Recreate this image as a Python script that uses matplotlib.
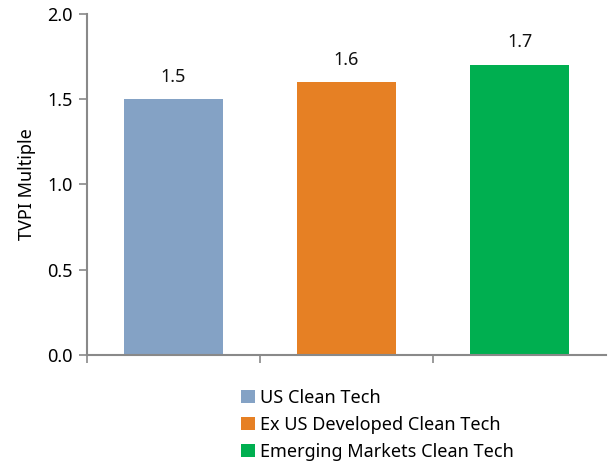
import matplotlib
matplotlib.use("Agg")
import matplotlib.pyplot as plt
from matplotlib.patches import Patch

plt.rcParams['font.family'] = ['Noto Sans', 'DejaVu Sans']

# Datos
categorias = ["US Clean Tech", "Ex US Developed Clean Tech", "Emerging Markets Clean Tech"]
valores = [1.5, 1.6, 1.7]
colores = ["#84A2C5", "#E68024", "#00AF50"]
ticks_y = [0.0, 0.5, 1.0, 1.5, 2.0]

gris = "#898989"
fs = 13

fig = plt.figure(figsize=(6.08, 4.65), dpi=100)
ax = fig.add_axes([0.143, 0.2366, 0.854, 0.7334])

x = list(range(len(valores)))
ax.bar(x, valores, width=0.57, color=colores, zorder=2)

for xi, v in zip(x, valores):
    ax.text(xi, v + 0.08, f"{v:.1f}", ha="center", va="bottom", fontsize=fs, color="#111111")

ax.set_xlim(-0.5, 2.5)
ax.set_ylim(0, 2.0)
ax.set_yticks(ticks_y)
ax.set_yticklabels([f"{t:.1f}" for t in ticks_y], fontsize=fs)
ax.set_xticks([-0.5, 0.5, 1.5])
ax.set_xticklabels([])
ax.tick_params(axis="x", length=6, width=1.2, color=gris, direction="out")
ax.tick_params(axis="y", length=6, width=1.2, color=gris, direction="out", pad=4)
ax.set_ylabel("TVPI Multiple", fontsize=fs, labelpad=8)

for lado in ["top", "right"]:
    ax.spines[lado].set_visible(False)
for lado in ["left", "bottom"]:
    ax.spines[lado].set_color(gris)
    ax.spines[lado].set_linewidth(1.5)
ax.spines["bottom"].set_zorder(3)

handles = [Patch(facecolor=c, label=l) for c, l in zip(colores, categorias)]
fig.legend(handles=handles, loc="upper left", bbox_to_anchor=(0.385, 0.18), frameon=False,
           fontsize=fs, handlelength=0.75, handleheight=0.75, handletextpad=0.3,
           labelspacing=0.5, borderaxespad=0)

fig.savefig("out.png", dpi=100)
